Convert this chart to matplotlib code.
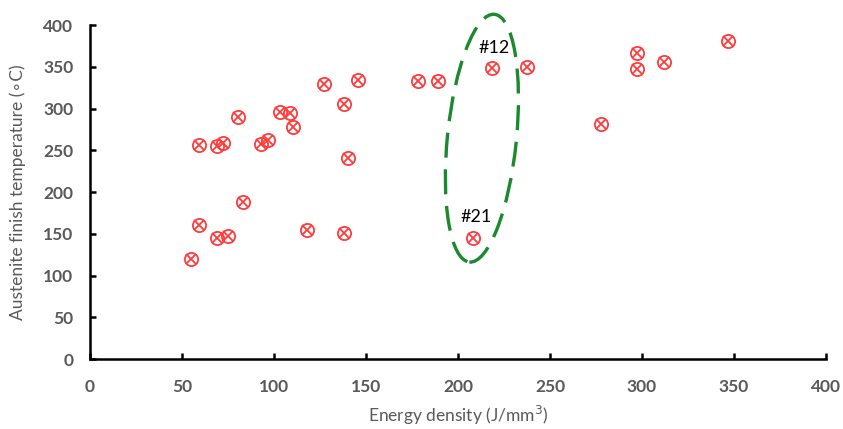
import numpy as np
import matplotlib.pyplot as plt
from matplotlib.patches import Ellipse
from matplotlib.transforms import ScaledTranslation

# data
energy = [55, 59, 59, 69, 69, 72.5, 75, 80.5, 83, 93, 96.5, 103.5, 108.5, 110.5,
          118, 127, 138, 138, 140, 145.5, 178, 189, 208, 218.5, 237.5,
          277.5, 297.5, 297.5, 312, 347]
temp = [120, 161, 256, 144.5, 255, 259, 147, 290, 188, 257.5, 262, 296, 295, 278,
        155, 329, 306, 151, 241, 334, 333, 333, 145, 349, 350,
        281, 366, 347, 355.5, 381]
labels = ['#12', '#21']
label_pos = [(219.5, 373), (210, 170)]

gray = '#595959'
red = '#ff3b3b'

fig = plt.figure(figsize=(8.43, 4.29), dpi=100)
ax = fig.add_axes([0.1068, 0.163, 0.873, 0.7787])

ax.plot(energy, temp, 'o', ms=9.5, mfc='none', mec=red, mew=1.3, ls='none')
ax.plot(energy, temp, 'x', ms=6.5, mec=red, mew=1.3, ls='none')

for t, (x, y) in zip(labels, label_pos):
    ax.text(x, y, t, ha='center', va='center', fontsize=13, family='Lato', color='black')

# dashed ellipse around #12 and #21
trans = fig.dpi_scale_trans + ScaledTranslation(213, 264.5, ax.transData)
ell = Ellipse((0, 0), 0.69, 2.49, angle=-5.8, fill=False, ec='#1b8a2e', lw=2.4,
              ls=(0, (7.5, 3.5)), transform=trans, clip_on=False)
ax.add_patch(ell)

ax.set_xlim(0, 400)
ax.set_ylim(0, 400)
ax.set_xticks(np.arange(0, 401, 50))
ax.set_yticks(np.arange(0, 401, 50))
for s in ['top', 'right']:
    ax.spines[s].set_visible(False)
for s in ['left', 'bottom']:
    ax.spines[s].set_linewidth(1.8)
ax.tick_params(direction='in', length=4, width=1.8, labelsize=12.5, labelcolor=gray)
ax.tick_params(axis='x', pad=14)
ax.tick_params(axis='y', pad=12)
for lab in ax.get_xticklabels() + ax.get_yticklabels():
    lab.set_fontweight('bold')
    lab.set_family('Lato')

ax.set_xlabel('Energy density (J/mm$^3$)', fontsize=12.5, color=gray, family='Lato', labelpad=7)
ax.set_ylabel('Austenite finish temperature (\u2218C)', fontsize=12.5, color=gray,
              family=['Lato', 'DejaVu Sans'], labelpad=12)

fig.savefig('out.png', dpi=100)
